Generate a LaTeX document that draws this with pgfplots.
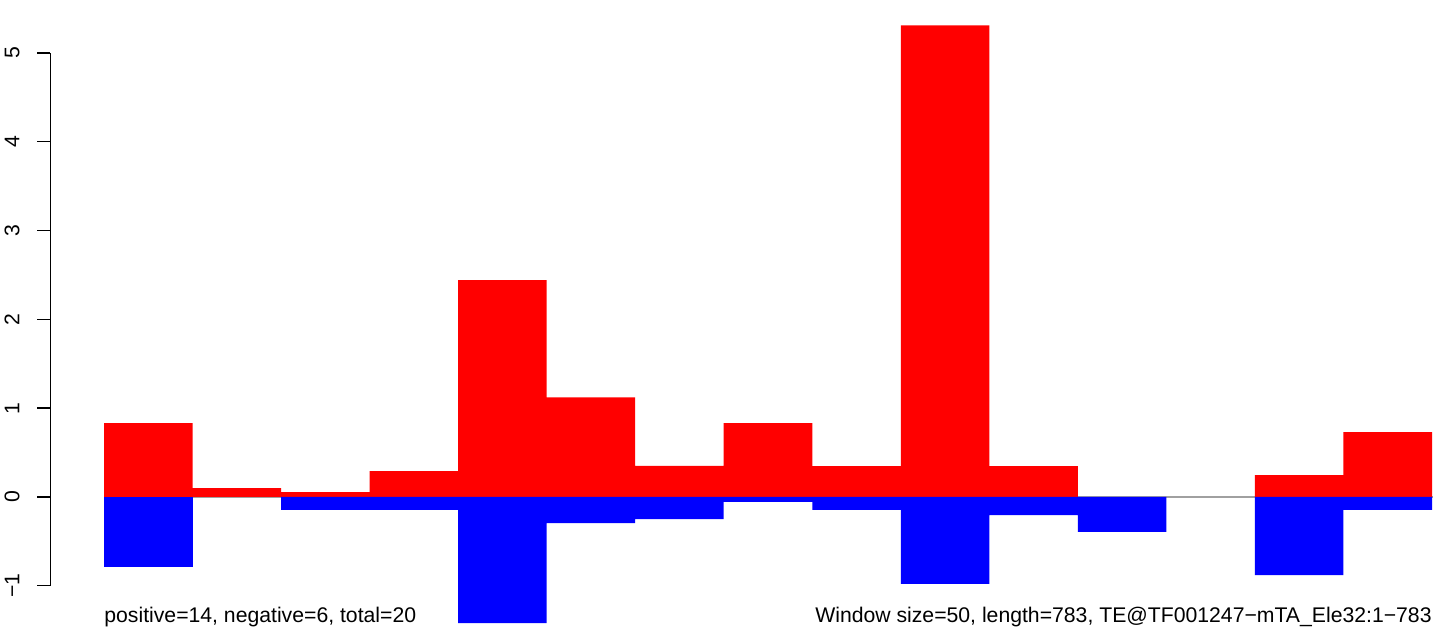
\documentclass[border=0pt]{standalone}
\usepackage{pgfplots}
\pgfplotsset{compat=1.18}
\usepackage{fontspec}
\setmainfont{Liberation Sans}
\definecolor{zeroline}{RGB}{160,160,160}
\begin{document}
\fontsize{10.6pt}{12.7pt}\selectfont
\begin{tikzpicture}
\begin{axis}[
  scale only axis,
  width=690.85pt, height=266.4pt,
  xmin=-0.6066, xmax=15, ymin=-1, ymax=5,
  clip=false,
  hide x axis,
  axis y line*=left,
  y axis line style={line width=0.65pt, black},
  ytick={-1,0,1,2,3,4,5},
  yticklabels={−1,0,1,2,3,4,5},
  tick align=outside,
  major tick length=6.5pt,
  tick style={black, line width=0.65pt},
  yticklabel shift=8.7pt,
  yticklabel style={rotate=90, anchor=south, inner sep=0pt, font=\fontsize{10.6pt}{12pt}\selectfont},
]
\addplot[color=zeroline, line width=0.7pt, forget plot] coordinates {(0,0) (15.01,0)};
% positive (red) bars; the last point of each run only closes the interval
\addplot[ybar interval, fill=red, draw=none, forget plot] coordinates {
(0,0.83) (1,0.10) (2,0.053) (3,0.29) (4,2.44) (5,1.12) (6,0.35) (7,0.83)
(8,0.346) (9,5.31) (10,0.346) (11,0.346)};
\addplot[ybar interval, fill=red, draw=none, forget plot] coordinates {
(13,0.245) (14,0.73) (15,0.73)};
% negative (blue) bars
\addplot[ybar interval, fill=blue, draw=none, forget plot] coordinates {
(0,-0.79) (1,-0.79)};
\addplot[ybar interval, fill=blue, draw=none, forget plot] coordinates {
(2,-0.146) (3,-0.146) (4,-1.42) (5,-0.296) (6,-0.25) (7,-0.056)
(8,-0.146) (9,-0.98) (10,-0.206) (11,-0.394) (12,-0.394)};
\addplot[ybar interval, fill=blue, draw=none, forget plot] coordinates {
(13,-0.88) (14,-0.146) (15,-0.146)};
\node[anchor=base west, inner sep=0pt] at (axis cs:0,-1.419) {positive=14, negative=6, total=20};
\node[anchor=base east, inner sep=0pt] at (axis cs:15,-1.419) {Window size=50, length=783, TE@TF001247−mTA\_Ele32:1−783};
\end{axis}
\pgfresetboundingbox
\useasboundingbox (-25.15pt,-24.15pt) rectangle (695.35pt,292.85pt);
\end{tikzpicture}
\end{document}
